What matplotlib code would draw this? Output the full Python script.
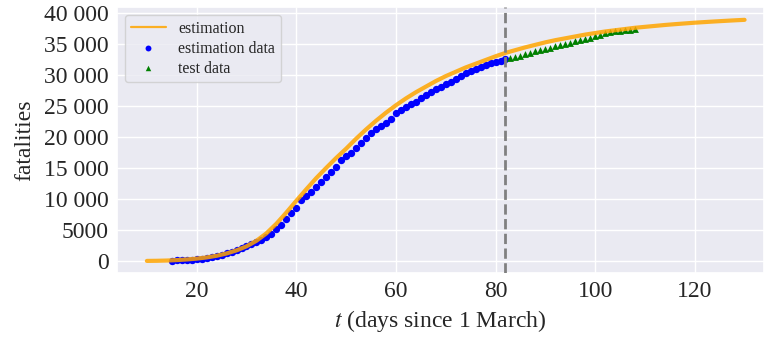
import matplotlib
matplotlib.use("Agg")
import matplotlib.pyplot as plt
import seaborn as sns
from matplotlib.ticker import FuncFormatter

# ---- data ----
est_days = [10, 12, 14, 16, 18, 20, 22, 24, 26, 28, 30, 32, 34, 36, 38, 40, 42, 44, 46, 48,
            50, 52, 54, 56, 58, 60, 62, 64, 66, 68, 70, 72, 74, 76, 78, 80, 82, 84, 86, 88,
            90, 92, 94, 96, 98, 100, 102, 104, 106, 108, 110, 112, 114, 116, 118, 120, 122,
            124, 126, 128, 130]
est_values = [0, 20, 60, 130, 230, 370, 560, 830, 1200, 1700, 2350, 3250, 4450, 6000, 7800,
              9700, 11550, 13350, 15000, 16600, 18100, 19700, 21200, 22600, 23900, 25100,
              26200, 27200, 28100, 29000, 29800, 30500, 31200, 31800, 32400, 33000, 33550,
              34000, 34450, 34850, 35250, 35600, 35900, 36200, 36500, 36750, 37000, 37200,
              37400, 37600, 37750, 37900, 38050, 38180, 38300, 38420, 38520, 38620, 38710,
              38800, 38880]

fit_days = list(range(15, 83))
fit_values = [50, 80, 120, 170, 220, 300, 380, 480, 600, 750, 950, 1200, 1500, 1800, 2100,
              2400, 2700, 3000, 3400, 3900, 4400, 5100, 5800, 6800, 7700, 8600, 9800, 10500,
              11100, 12000, 12800, 13500, 14400, 15200, 16200, 16900, 17400, 18200, 19000,
              19900, 20600, 21300, 21800, 22200, 22900, 23900, 24400, 24900, 25300, 25700,
              26200, 26700, 27200, 27700, 28100, 28500, 28900, 29400, 29900, 30300, 30700,
              31000, 31300, 31600, 31900, 32100, 32300, 32600]

test_days = list(range(83, 109))
test_values = [32700, 32900, 33100, 33300, 33500, 33800, 34000, 34200, 34400, 34600, 34800,
               35000, 35200, 35400, 35600, 35800, 36000, 36300, 36500, 36700, 36850, 37000,
               37100, 37200, 37300, 37400]

split_day = 82
x_ticks = [20, 40, 60, 80, 100, 120]
y_ticks = [0, 5000, 10000, 15000, 20000, 25000, 30000, 35000, 40000]

# ---- style ----
sns.set_theme(style="darkgrid")
plt.rcParams['font.family'] = ['Liberation Serif', 'DejaVu Serif']
plt.rcParams['mathtext.fontset'] = 'stix'

fig = plt.figure(figsize=(7.64, 3.37), dpi=100)
ax = fig.add_axes([117 / 764, (337 - 273) / 337, (764 - 117) / 764, (273 - 7) / 337])

ax.scatter(fit_days, fit_values, s=28, color='blue', marker='o', label='estimation data',
           zorder=2, linewidths=0)
ax.scatter(test_days, test_values, s=24, color='green', marker='^', label='test data',
           zorder=2, linewidths=0)
ax.plot(est_days, est_values, color='orange', lw=3, alpha=0.85, label='estimation', zorder=3)
ax.axvline(split_day, color='gray', ls='--', lw=2, zorder=4)

ax.set_xlim(4, 133.9)
ax.set_ylim(-1950, 40950)
ax.set_xticks(x_ticks)
ax.set_yticks(y_ticks)


def fmt(v, pos):
    v = int(round(v))
    if v >= 10000:
        return f"{v:,}".replace(",", " ")
    return str(v)


ax.yaxis.set_major_formatter(FuncFormatter(fmt))
ax.tick_params(axis='both', labelsize=17, pad=6, length=0)
ax.set_xlabel(r'$t$ (days since 1 March)', fontsize=17, labelpad=4)
ax.set_ylabel('fatalities', fontsize=17, labelpad=6)

handles, labels = ax.get_legend_handles_labels()
order = [labels.index('estimation'), labels.index('estimation data'), labels.index('test data')]
leg = ax.legend([handles[i] for i in order], [labels[i] for i in order], loc='upper left',
                fontsize=11.5, frameon=True, labelspacing=0.25, borderpad=0.35,
                handlelength=2.2, borderaxespad=0.5, markerscale=0.8)
for line in leg.get_lines():
    line.set_linewidth(1.6)

fig.savefig('out.png', dpi=100)
